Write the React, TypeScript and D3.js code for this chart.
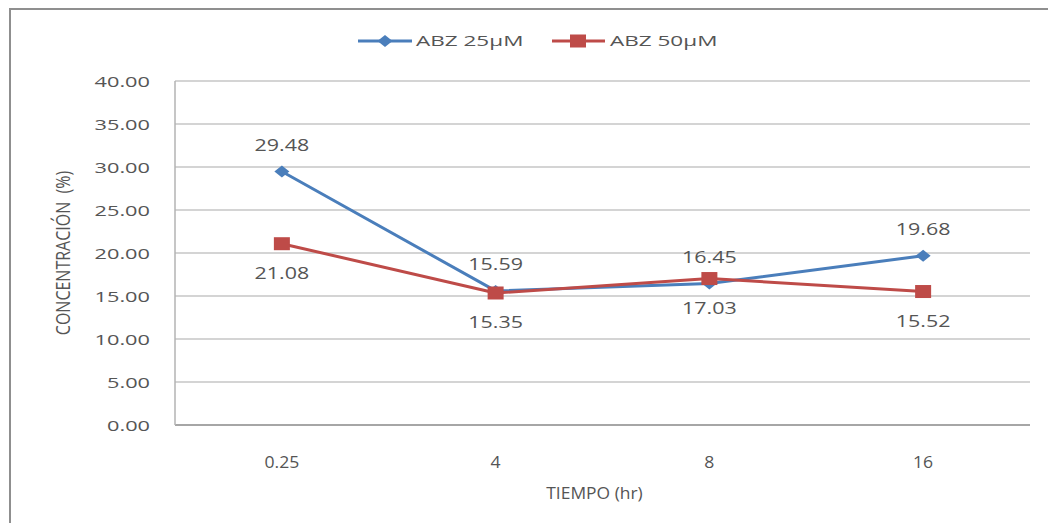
import React from "react";
import * as d3 from "d3";

// Sampling times (hr) and concentration (%) for both ABZ doses
const categories = ["0.25", "4", "8", "16"];
const abz25 = [29.48, 15.59, 16.45, 19.68];
const abz50 = [21.08, 15.35, 17.03, 15.52];
const yTicks = [0, 5, 10, 15, 20, 25, 30, 35, 40];
const seriesNames = ["ABZ 25µM", "ABZ 50µM"];

const W = 1048;
const H = 523;
const margin = { left: 175, right: 18, top: 81, bottom: 98 };
const BLUE = "#4a7ebb";
const RED = "#be4b48";
const TEXT = "#555555";
const FONT = "'Open Sans', 'DejaVu Sans', sans-serif";

type STextProps = {
  x: number;
  y: number;
  sx?: number;
  size: number;
  anchor?: "start" | "middle" | "end";
  rotate?: number;
  children: React.ReactNode;
};

// Text with a horizontal stretch applied around its anchor point
function SText({ x, y, sx = 1, size, anchor = "middle", rotate = 0, children }: STextProps) {
  const t = rotate
    ? `translate(${x},${y}) rotate(${rotate}) scale(1,${sx})`
    : `translate(${x},${y}) scale(${sx},1)`;
  return (
    <text
      transform={t}
      textAnchor={anchor}
      dominantBaseline="central"
      fontFamily={FONT}
      fontSize={size}
      fill={TEXT}
      style={{ whiteSpace: "pre" }}
    >
      {children}
    </text>
  );
}

export default function App() {
  const x = d3
    .scaleBand<string>()
    .domain(categories)
    .range([margin.left, W - margin.right]);
  const y = d3
    .scaleLinear()
    .domain([0, 40])
    .range([H - margin.bottom, margin.top]);
  const cx = (c: string) => (x(c) ?? 0) + x.bandwidth() / 2;

  const line = d3
    .line<number>()
    .x((_, i) => cx(categories[i]))
    .y((d) => y(d));

  const diamond = (px: number, py: number) =>
    `M${px - 7.5},${py} L${px},${py - 6} L${px + 7.5},${py} L${px},${py + 6} Z`;

  const legendY = 41;

  return (
    <svg
      width={W}
      height={H}
      style={{ position: "absolute", left: 0, top: 0, background: "#fff" }}
    >
      {/* chart frame */}
      <rect x={10} y={9} width={W + 20} height={H + 20} fill="#fff" stroke="#8f8f8f" strokeWidth={2} />

      {/* horizontal gridlines */}
      {yTicks.map((t) => (
        <line
          key={t}
          x1={margin.left}
          x2={W - margin.right}
          y1={y(t)}
          y2={y(t)}
          stroke={t === 0 ? "#a6a6a6" : "#d4d4d4"}
          strokeWidth={2}
        />
      ))}
      {/* y axis line */}
      <line x1={margin.left} x2={margin.left} y1={y(40)} y2={y(0)} stroke="#b3b3b3" strokeWidth={1.5} />

      {/* y tick labels */}
      {yTicks.map((t) => (
        <SText key={t} x={150} y={y(t)} sx={1.45} size={15} anchor="end">
          {t.toFixed(2)}
        </SText>
      ))}

      {/* x tick labels */}
      {categories.map((c) => (
        <SText key={c} x={cx(c)} y={462} sx={1.1} size={16}>
          {c}
        </SText>
      ))}

      {/* axis titles */}
      <SText x={(margin.left + W - margin.right) / 2 - 8} y={493} sx={1.09} size={16}>
        TIEMPO (hr)
      </SText>
      <SText x={62} y={(y(0) + y(40)) / 2} sx={1.3} size={16} rotate={-90}>
        {"CONCENTRACIÓN\u00a0\u00a0(%)"}
      </SText>

      {/* series lines */}
      <path d={line(abz25) ?? ""} fill="none" stroke={BLUE} strokeWidth={3} strokeLinejoin="round" />
      <path d={line(abz50) ?? ""} fill="none" stroke={RED} strokeWidth={3} strokeLinejoin="round" />

      {/* markers */}
      {abz25.map((v, i) => (
        <path key={"b" + i} d={diamond(cx(categories[i]), y(v))} fill={BLUE} />
      ))}
      {abz50.map((v, i) => (
        <rect key={"r" + i} x={cx(categories[i]) - 8} y={y(v) - 6.5} width={16} height={13} fill={RED} />
      ))}

      {/* data labels: ABZ 25µM above, ABZ 50µM below */}
      {abz25.map((v, i) => (
        <SText key={"lb" + i} x={cx(categories[i])} y={y(v) - 27} sx={1.3} size={16.5}>
          {v.toFixed(2)}
        </SText>
      ))}
      {abz50.map((v, i) => (
        <SText key={"lr" + i} x={cx(categories[i])} y={y(v) + 29} sx={1.3} size={16.5}>
          {v.toFixed(2)}
        </SText>
      ))}

      {/* legend */}
      <line x1={358} x2={412} y1={legendY} y2={legendY} stroke={BLUE} strokeWidth={3} />
      <path d={diamond(385, legendY)} fill={BLUE} />
      <SText x={416} y={legendY} sx={1.5} size={15} anchor="start">
        {seriesNames[0]}
      </SText>
      <line x1={552} x2={605} y1={legendY} y2={legendY} stroke={RED} strokeWidth={3} />
      <rect x={570} y={legendY - 6.5} width={16} height={13} fill={RED} />
      <SText x={610} y={legendY} sx={1.5} size={15} anchor="start">
        {seriesNames[1]}
      </SText>
    </svg>
  );
}
